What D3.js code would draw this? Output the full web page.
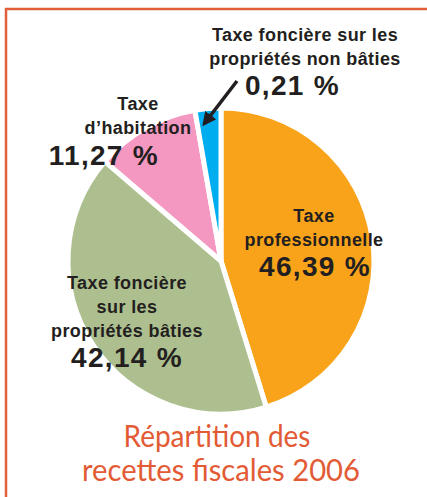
<!DOCTYPE html>
<html lang="fr">
<head>
  <meta charset="UTF-8">
  <title>Répartition des recettes fiscales 2006</title>
  <script src="https://cdn.jsdelivr.net/npm/d3@7"></script>
  <style>
    html, body { margin: 0; padding: 0; background: #fff; }
    svg { display: block; }
    .lbl { font-family: "Liberation Sans", Arial, sans-serif; font-weight: bold; fill: #231f20; }
  </style>
</head>
<body>
<svg width="427" height="497"></svg>
<script>
  // données
  const categories = ["Taxe professionnelle", "Taxe foncière sur les propriétés bâties", "Taxe d'habitation", "Taxe foncière sur les propriétés non bâties"];
  const values = [46.39, 42.14, 11.27, 0.21];
  const valueLabels = ["46,39 %", "42,14 %", "11,27 %", "0,21 %"];
  const colors = ["#f9a31b", "#aebf8f", "#f498c1", "#00aeef"];

  const svg = d3.select("svg");
  const cx = 221, cy = 261, radius = 153;

  // cadre orange
  svg.append("path")
    .attr("d", "M6,500 L6,9 L430,9")
    .attr("fill", "none")
    .attr("stroke", "#e0603a")
    .attr("stroke-width", 2.5);

  // la petite part est agrandie pour rester visible (comme sur l'original)
  const pie = d3.pie().sort(null).value(d => Math.max(d, 2.8));
  const arc = d3.arc().innerRadius(0).outerRadius(radius);

  const g = svg.append("g").attr("transform", `translate(${cx},${cy})`);
  g.selectAll("path")
    .data(pie(values))
    .join("path")
    .attr("d", arc)
    .attr("fill", (d, i) => colors[i])
    .attr("stroke", "#fff")
    .attr("stroke-width", 5)
    .attr("stroke-linejoin", "miter");

  // étiquettes
  function label(lines, x, y, anchor, pct, pctX, pctY, pctAnchor) {
    const t = svg.append("text").attr("class", "lbl").attr("text-anchor", anchor)
      .attr("font-size", 18).attr("letter-spacing", 0.4);
    lines.forEach((l, i) => t.append("tspan").attr("x", x).attr("y", y + i * 24).text(l));
    svg.append("text").attr("class", "lbl")
      .attr("x", pctX).attr("y", pctY)
      .attr("text-anchor", pctAnchor)
      .attr("font-size", 28)
      .attr("letter-spacing", 1.3)
      .text(pct);
  }

  label(["Taxe", "professionnelle"], 314, 222, "middle", valueLabels[0], 315, 276, "middle");
  label(["Taxe foncière", "sur les", "propriétés bâties"], 127, 289, "middle", valueLabels[1], 127, 367, "middle");
  label(["Taxe", "d’habitation"], 138, 110, "middle", valueLabels[2], 159, 165, "end");
  label(["Taxe foncière sur les", "propriétés non bâties"], 305, 41, "middle", valueLabels[3], 245, 95, "start");

  // flèche
  svg.append("defs").append("marker")
    .attr("id", "head")
    .attr("viewBox", "0 0 10 10")
    .attr("refX", 8).attr("refY", 5)
    .attr("markerWidth", 4).attr("markerHeight", 4)
    .attr("orient", "auto")
    .append("path").attr("d", "M0,0 L10,5 L0,10 z").attr("fill", "#231f20");

  svg.append("line")
    .attr("x1", 237).attr("y1", 81)
    .attr("x2", 204).attr("y2", 124)
    .attr("stroke", "#231f20")
    .attr("stroke-width", 3.5)
    .attr("marker-end", "url(#head)");

  // titre
  const title = svg.append("text")
    .attr("font-family", "Lato, 'Open Sans', sans-serif")
    .attr("font-size", 30)
    .attr("fill", "#e25b35")
    .attr("text-anchor", "middle");
  title.append("tspan").attr("x", 217).attr("y", 447)
    .attr("textLength", 187).attr("lengthAdjust", "spacingAndGlyphs").text("Répartition des");
  title.append("tspan").attr("x", 221).attr("y", 481)
    .attr("textLength", 278).attr("lengthAdjust", "spacingAndGlyphs").text("recettes fiscales 2006");
</script>
</body>
</html>
